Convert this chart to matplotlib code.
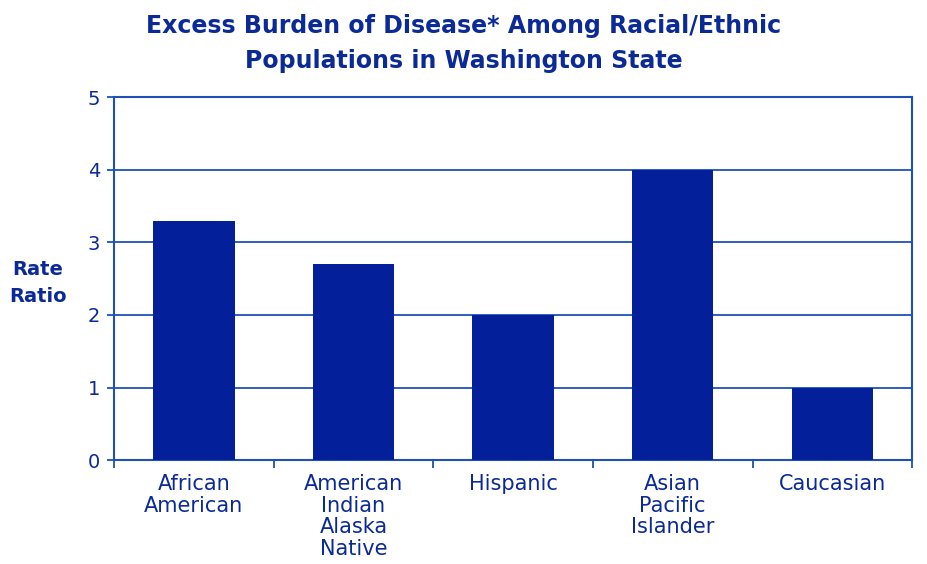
import matplotlib
matplotlib.use("Agg")
import matplotlib.pyplot as plt
import numpy as np

categories = ["African\nAmerican", "American\nIndian\nAlaska\nNative", "Hispanic", "Asian\nPacific\nIslander", "Caucasian"]
values = [3.3, 2.7, 2.0, 4.0, 1.0]
yticks = [0, 1, 2, 3, 4, 5]

bar_color = "#03209A"
line_color = "#1E50B8"
text_color = "#0B2A96"

fig = plt.figure(figsize=(9.27, 5.64), dpi=100)
ax = fig.add_axes([0.123, 0.184, 0.861, 0.644])

x = np.arange(len(categories))
ax.set_axisbelow(True)
ax.yaxis.grid(True, color=line_color, linewidth=1.3)
ax.bar(x, values, width=0.51, color=bar_color, zorder=3)

ax.set_xlim(-0.5, len(categories) - 0.5)
ax.set_ylim(0, 5)
ax.set_yticks(yticks)
ax.set_yticklabels([str(t) for t in yticks], fontsize=14, color=text_color)

ax.set_xticks(x)
ax.set_xticklabels(categories, fontsize=15, color=text_color, linespacing=1.1, va="top")
ax.tick_params(axis="x", which="major", length=0, pad=10)
ax.set_xticks(np.arange(-0.5, len(categories) + 0.5, 1.0), minor=True)
ax.tick_params(axis="x", which="minor", length=6, width=1.3, color=line_color, direction="out")
ax.tick_params(axis="y", length=5, width=1.3, color=line_color, direction="out", pad=5)

for s in ax.spines.values():
    s.set_color(line_color)
    s.set_linewidth(1.5)

fig.text(0.5, 0.923, "Excess Burden of Disease* Among Racial/Ethnic\nPopulations in Washington State",
         ha="center", va="center", fontsize=17, fontweight="bold", color=text_color, linespacing=1.6)
fig.text(0.041, 0.498, "Rate\nRatio", ha="center", va="center", fontsize=14, fontweight="bold",
         color=text_color, linespacing=1.55)

fig.savefig("out.png", dpi=100)
